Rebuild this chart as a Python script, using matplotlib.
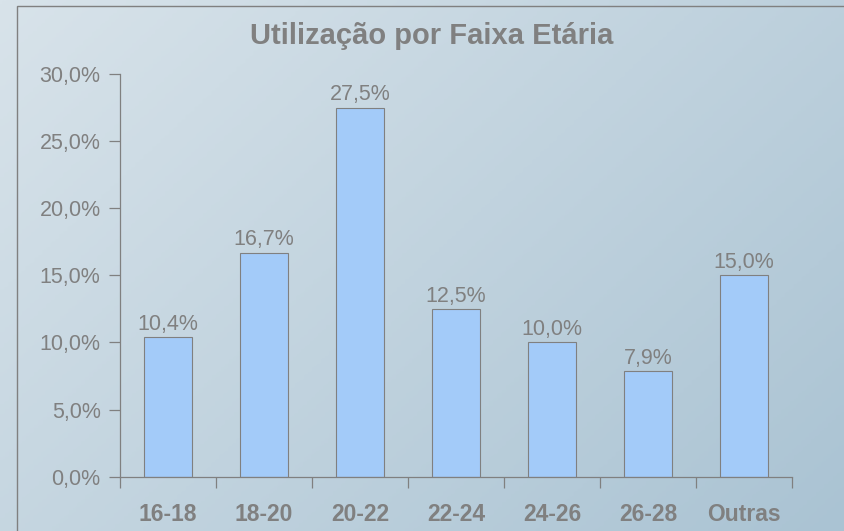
import numpy as np
import matplotlib
matplotlib.use('Agg')
import matplotlib.pyplot as plt
from matplotlib.patches import Rectangle
from matplotlib.colors import LinearSegmentedColormap

plt.rcParams['font.family'] = ['Liberation Sans', 'DejaVu Sans']

categories = ['16-18', '18-20', '20-22', '22-24', '24-26', '26-28', 'Outras']
values = [10.4, 16.7, 27.5, 12.5, 10.0, 7.9, 15.0]
yticks = [0, 5, 10, 15, 20, 25, 30]
title = 'Utilização por Faixa Etária'

grey = '#808080'
W, H = 844, 531
fig = plt.figure(figsize=(W / 100, H / 100), dpi=100)

# diagonal background gradient
bg = fig.add_axes([0, 0, 1, 1], zorder=-10)
gx, gy = np.meshgrid(np.linspace(0, 1, 200), np.linspace(0, 1, 200))
grad = (gx * 0.6 + gy * 0.4)
cmap = LinearSegmentedColormap.from_list('bg', ['#d8e3ea', '#aac3d3'])
bg.imshow(grad, cmap=cmap, aspect='auto', extent=[0, 1, 0, 1], origin='upper')
bg.set_xlim(0, 1)
bg.set_ylim(0, 1)
bg.axis('off')

# outer frame running off the right and bottom edges
fig.patches.append(Rectangle((17 / W, -0.1), 1.2, 1 - 6 / H + 0.1, transform=fig.transFigure,
                             fill=False, edgecolor=grey, linewidth=1.0))

ax = fig.add_axes([120 / W, 1 - 476.7 / H, (792 - 120) / W, (476.7 - 74) / H])
ax.patch.set_alpha(0)

x = np.arange(len(categories))
bars = ax.bar(x, values, width=0.5, color='#a3cbf9', edgecolor=grey, linewidth=0.8)
for xi, v in zip(x, values):
    ax.annotate(('%.1f%%' % v).replace('.', ','), (xi, v), xytext=(0, 1.5), textcoords='offset points',
                ha='center', va='bottom', color=grey, fontsize=15.5)

ax.set_xlim(-0.5, len(categories) - 0.5)
ax.set_ylim(0, 30)
ax.set_yticks(yticks)
ax.set_yticklabels([('%.1f%%' % t).replace('.', ',') for t in yticks])

# ticks at category boundaries, labels at centres
ax.set_xticks(np.arange(-0.5, len(categories) + 0.5, 1))
ax.set_xticklabels([])
ax.set_xticks(x, minor=True)
ax.set_xticklabels(categories, minor=True, fontweight='bold', fontsize=16.5, color=grey)
ax.tick_params(axis='x', which='major', direction='out', length=8, width=0.9, color=grey)
ax.tick_params(axis='x', which='minor', length=0, pad=19)
ax.tick_params(axis='y', direction='out', length=8, width=0.9, color=grey, labelcolor=grey,
               labelsize=15.5, pad=6)

for s in ['top', 'right']:
    ax.spines[s].set_visible(False)
for s in ['left', 'bottom']:
    ax.spines[s].set_color(grey)
    ax.spines[s].set_linewidth(0.9)

fig.text(432 / W, 1 - 36 / H, title, ha='center', va='center', fontsize=21, fontweight='bold', color=grey)

fig.savefig('out.png', dpi=100)
